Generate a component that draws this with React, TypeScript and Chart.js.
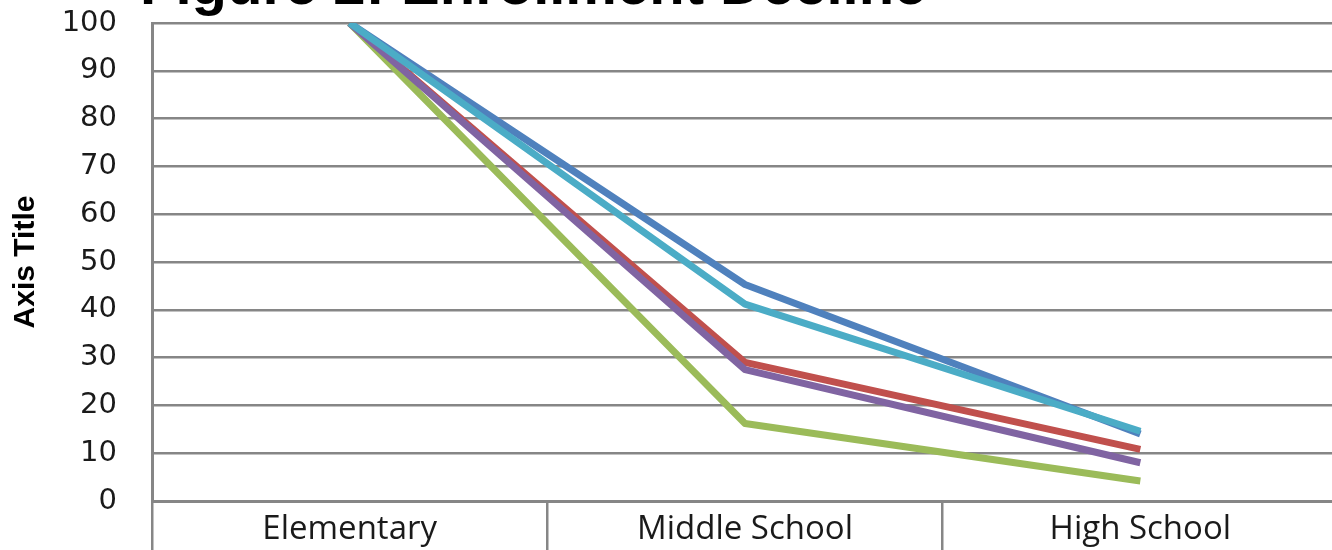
import React, { useEffect, useRef } from "react";
import { Chart, registerables } from "chart.js";

Chart.register(...registerables);

const TITLE = "Figure 2: Enrollment Decline";
const Y_TITLE = "Axis Title";
const categories = ["Elementary", "Middle School", "High School"];
const yTicks = [0, 10, 20, 30, 40, 50, 60, 70, 80, 90, 100];

const seriesNames = ["Series1", "Series2", "Series3", "Series4", "Series5"];
const series1 = [100, 45.3, 14.0];
const series2 = [100, 29.0, 10.8];
const series3 = [100, 16.2, 4.2];
const series4 = [100, 27.5, 8.0];
const series5 = [100, 41.2, 14.6];
const seriesColors = ["#4F81BD", "#C0504D", "#9BBB59", "#8064A2", "#4BACC6"];
const seriesOrder = [5, 4, 3, 2, 1];

export default function App() {
  const ref = useRef<HTMLCanvasElement>(null);

  useEffect(() => {
    if (!ref.current) return;
    const titlePlugin = {
      id: "cutTitle",
      afterDraw(chart: any) {
        const ctx = chart.ctx;
        ctx.save();
        ctx.font = "bold 58px 'Liberation Sans'";
        ctx.fillStyle = "#000";
        ctx.textBaseline = "alphabetic";
        ctx.textAlign = "left";
        ctx.fillText(TITLE, 140, 4);
        ctx.restore();
      },
    };
    const allSeries = [series1, series2, series3, series4, series5];
    const chart = new Chart(ref.current, {
      type: "line",
      data: {
        labels: categories,
        datasets: allSeries.map((d, i) => ({
          label: seriesNames[i],
          data: d,
          borderColor: seriesColors[i],
          backgroundColor: seriesColors[i],
          borderWidth: 7,
          pointRadius: 0,
          tension: 0,
          fill: false,
          borderJoinStyle: "round" as const,
          borderCapStyle: "butt" as const,
          order: seriesOrder[i],
        })),
      },
      options: {
        animation: false,
        responsive: false,
        devicePixelRatio: 1,
        layout: { padding: { top: 23, left: 0, right: 0, bottom: 0 } },
        plugins: {
          legend: { display: false },
          tooltip: { enabled: false },
          title: { display: false },
        },
        scales: {
          x: {
            type: "category",
            offset: true,
            grid: {
              offset: true,
              drawOnChartArea: false,
              drawTicks: true,
              tickLength: 60,
              color: "#868686",
              lineWidth: 2.5,
            },
            border: { display: true, color: "#868686", width: 3 },
            ticks: {
              font: { family: "'Open Sans'", size: 33 },
              color: "#1a1a1a",
              padding: -51,
              maxRotation: 0,
              autoSkip: false,
            },
            afterFit: (s: any) => {
              s.height = 79;
              s.paddingLeft = 0;
              s.paddingRight = 0;
            },
          },
          y: {
            min: 0,
            max: 100,
            afterBuildTicks: (s: any) => {
              s.ticks = yTicks.map((v) => ({ value: v }));
            },
            grid: {
              color: "#868686",
              lineWidth: 2.5,
              drawTicks: false,
            },
            border: { display: true, color: "#868686", width: 3 },
            ticks: {
              font: { family: "'DejaVu Sans'", size: 29 },
              color: "#1a1a1a",
              padding: 35,
            },
            title: {
              display: true,
              text: Y_TITLE,
              font: { family: "'Liberation Sans'", size: 30, weight: "bold" },
              color: "#000",
              padding: { top: 8, bottom: 0 },
            },
            afterFit: (s: any) => {
              s.width = 152;
              s.paddingTop = 0;
              s.paddingBottom = 0;
            },
          },
        },
      },
      plugins: [titlePlugin],
    });
    return () => chart.destroy();
  }, []);

  return (
    <div
      style={{
        position: "fixed",
        left: 0,
        top: 0,
        width: 1332,
        height: 550,
        overflow: "hidden",
        background: "#fff",
      }}
    >
      <canvas ref={ref} width={1338} height={580} style={{ display: "block" }} />
    </div>
  );
}
